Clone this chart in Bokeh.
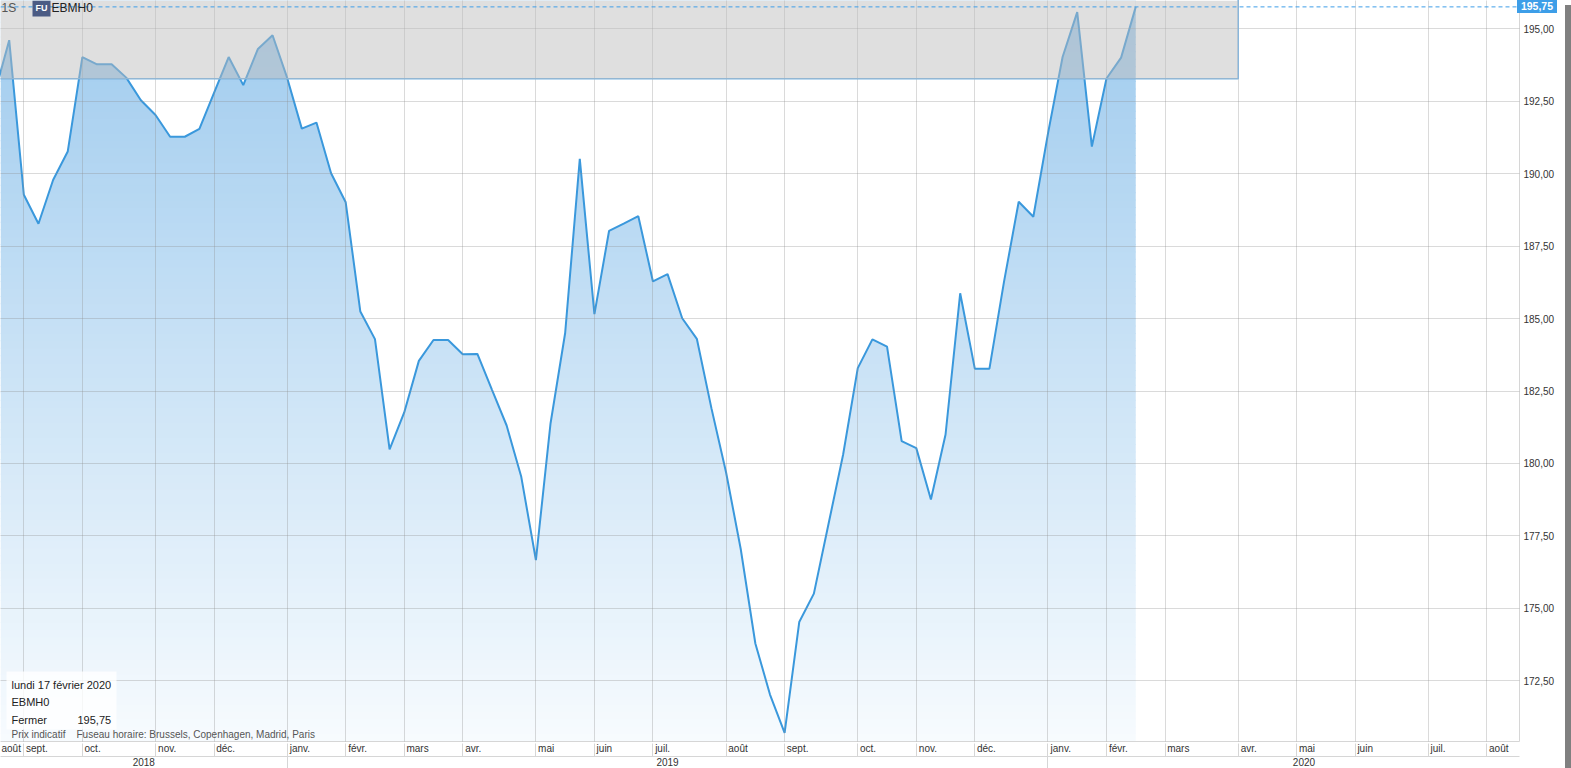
import numpy as np
from bokeh.plotting import figure
from bokeh.models import (Range1d, FixedTicker, LinearAxis, Span, Label,
                          BoxAnnotation, Div)
from bokeh.layouts import row
from bokeh.embed import file_html
from bokeh.resources import INLINE

# ---------------- data ----------------
# EBMH0 weekly closes, week index -1 (20 Aug 2018) .. 77 (Mon 17 Feb 2020)
closes = [192.75, 194.60, 189.27, 188.27, 189.78, 190.76, 194.02, 193.77, 193.77, 193.31,
          192.53, 192.02, 191.27, 191.27, 191.54, 192.78, 194.02, 193.05, 194.30, 194.77,
          193.30, 191.55, 191.76, 190.01, 189.01, 185.24, 184.29, 180.49, 181.76, 183.54,
          184.26, 184.26, 183.77, 183.78, 182.54, 181.31, 179.54, 176.67, 181.38, 184.50,
          190.51, 185.15, 188.02, 188.27, 188.53, 186.28, 186.53, 185.01, 184.30, 181.90,
          179.69, 177.05, 173.79, 172.03, 170.71, 174.53, 175.51, 177.91, 180.31, 183.29,
          184.28, 184.03, 180.77, 180.53, 178.76, 181.00, 185.87, 183.27, 183.27, 186.28,
          189.03, 188.51, 191.38, 194.02, 195.57, 190.93, 193.28, 194.00, 195.75]
first_week = -1
last_close = 195.75

# month tick = first weekly bar of each month (week index)
month_ticks = [1, 5, 10, 14, 19, 23, 27, 31, 36, 40, 44, 49,
               53, 58, 62, 66, 71, 75, 79, 84, 88, 92, 97, 101]
month_labels = ["sept.", "oct.", "nov.", "déc.", "janv.", "févr.", "mars", "avr.",
                "mai", "juin", "juil.", "août", "sept.", "oct.", "nov.", "déc.",
                "janv.", "févr.", "mars", "avr.", "mai", "juin", "juil.", "août"]
first_month_label = "août"
year_bounds = [19, 71]
year_centers = [9.2, 45.0, 88.5]
year_labels = ["2018", "2019", "2020"]
y_ticks = [172.5, 175.0, 177.5, 180.0, 182.5, 185.0, 187.5, 190.0, 192.5, 195.0]

# highlighted (zoom) box
zoom_box_right = 84
zoom_box_bottom = 193.27

# ---------------- figure ----------------
X0, X1 = -0.595, 103.23
Y0, Y1 = 170.41, 195.97
FW, FH = 1519, 741
FONT = "Liberation Sans"
PXW = FW / (X1 - X0)          # pixels per week
PXH = (Y1 - Y0) / FH          # data units per pixel (vertical)
GRID_C = "#d6d6d6"

weeks = np.arange(len(closes)) + first_week

p = figure(frame_width=FW, frame_height=FH, output_backend="svg",
           toolbar_location=None, x_range=Range1d(X0, X1), y_range=Range1d(Y0, Y1),
           x_axis_location="below", y_axis_location="right",
           min_border_left=0, min_border_top=0, min_border_bottom=0, min_border_right=0,
           background_fill_color="white", border_fill_color="white")
p.outline_line_color = None

# area with vertical gradient: opaque gradient bands under the data span,
# then the part above the price curve is masked back to white
top_rgb = np.array([159, 203, 238])
bot_rgb = np.array([247, 251, 254])
n_b = 100
edges = np.linspace(Y0, Y1, n_b + 1)
mids = (edges[:-1] + edges[1:]) / 2
tt = (Y1 - mids) / (Y1 - Y0)
band_cols = ["#%02x%02x%02x" % tuple(int(round(c)) for c in (top_rgb + (bot_rgb - top_rgb) * t))
             for t in tt]
p.quad(left=X0, right=weeks[-1], bottom=edges[:-1], top=edges[1:] + PXH,
       fill_color=band_cols, line_color=None)
p.varea(x=weeks, y1=closes, y2=Y1 + 1, fill_color="white")

# grids
p.xgrid.ticker = FixedTicker(ticks=month_ticks)
p.ygrid.ticker = FixedTicker(ticks=y_ticks)
for g in (p.xgrid[0], p.ygrid[0]):
    g.level = "guide"
    g.grid_line_color = "#8f8f8f"
    g.grid_line_alpha = 0.33

# price line
p.line(x=weeks, y=closes, line_color="#3a98dc", line_width=2, level="guide")

# grey zoom box over the top
p.add_layout(BoxAnnotation(right=zoom_box_right, bottom=zoom_box_bottom,
                           fill_color="#bcbcbc", fill_alpha=0.48, line_color=None,
                           level="annotation"))
p.line(x=[X0, zoom_box_right, zoom_box_right], y=[zoom_box_bottom, zoom_box_bottom, Y1 + 1],
       line_color="#7db3de", line_width=1.5, level="annotation")

# last price dashed line
p.add_layout(Span(location=last_close, dimension="width", line_color="#3d9ee8",
                  line_dash="4 3", line_width=1, level="overlay"))

# ---------------- axes ----------------
# approximate Arial/Liberation Sans advance widths (per 1000 em) to left-align month names
CW = {"a": 556, "o": 556, "û": 556, "t": 278, "s": 500, "e": 556, "p": 556, ".": 278,
      "c": 500, "n": 556, "v": 500, "d": 556, "é": 556, "j": 222, "i": 222, "f": 278,
      "r": 333, "m": 833, "u": 556, "l": 222}


def text_w(s, size=10):
    return sum(CW.get(ch, 556) for ch in s) * size / 1000.0


label_pos = [X0 + (1 + text_w(first_month_label) / 2) / PXW]
label_pos += [t + (2.2 + text_w(l) / 2) / PXW for t, l in zip(month_ticks, month_labels)]
label_txt = [first_month_label] + month_labels


def style_axis(a):
    a.major_label_text_font = FONT
    a.major_label_text_font_size = "10px"
    a.major_label_text_color = "#333333"
    a.axis_line_color = GRID_C


# row 1: month names
ax = p.xaxis[0]
ax.ticker = FixedTicker(ticks=label_pos)
ax.major_label_overrides = {float(t): l for t, l in zip(label_pos, label_txt)}
ax.major_label_standoff = 1
ax.major_tick_out = 0
ax.major_tick_in = 0
ax.major_tick_line_color = None
ax.minor_tick_line_color = None
style_axis(ax)

# row 2: years; its inward minor ticks draw the month separators in row 1
yr = LinearAxis(ticker=FixedTicker(ticks=year_centers, minor_ticks=month_ticks))
yr.major_label_overrides = {float(t): l for t, l in zip(year_centers, year_labels)}
yr.major_tick_line_color = None
yr.major_tick_out = 0
yr.major_tick_in = 0
yr.minor_tick_out = 0
yr.minor_tick_in = 13
yr.minor_tick_line_color = GRID_C
yr.major_label_standoff = 1
style_axis(yr)
p.add_layout(yr, "below")

# bottom: year separators drawn inward into row 2
ysep = LinearAxis(ticker=FixedTicker(ticks=year_bounds))
ysep.major_label_overrides = {float(t): "" for t in year_bounds}
ysep.major_label_text_font_size = "0px"
ysep.major_label_standoff = 0
ysep.major_tick_out = 0
ysep.major_tick_in = 12
ysep.major_tick_line_color = GRID_C
ysep.minor_tick_line_color = None
ysep.axis_line_color = None
p.add_layout(ysep, "below")

ya = p.yaxis[0]
ya.ticker = FixedTicker(ticks=y_ticks)
ya.major_label_overrides = {float(t): f"{t:.2f}".replace(".", ",") for t in y_ticks}
ya.major_tick_out = 0
ya.major_tick_in = 0
ya.minor_tick_line_color = None
ya.major_label_standoff = 4
style_axis(ya)


# ---------------- annotations ----------------
def xd(px):
    return (px - 8.7) / 14.63


def yd(py):
    return 195.0 - (py - 28.3) / 29.07


def lab(text, px, py, size="11px", color="#222222", style="normal", **kw):
    p.add_layout(Label(x=xd(px), y=yd(py), text=text, text_font=FONT,
                       text_font_size=size, text_color=color, text_font_style=style,
                       text_baseline="middle", text_align="left", level="overlay", **kw))


lab("1S", 1, 8, size="12px", color="#555555")
lab("FU", 32, 8, size="9px", color="white", style="bold",
    background_fill_color="#4b5b84", padding=3)
lab("EBMH0", 51, 8, size="12px", color="#222222")

p.add_layout(BoxAnnotation(left=xd(6), right=xd(116), bottom=yd(731), top=yd(673),
                           fill_color="white", fill_alpha=0.8, line_color=None,
                           level="overlay"))
lab("lundi 17 février 2020", 11, 686)
lab("EBMH0", 11, 704)
lab("Fermer", 11, 722)
lab(f"{last_close:.2f}".replace(".", ","), 77, 722)
lab("Prix indicatif", 11, 736, size="10px", color="#555555")
lab("Fuseau horaire: Brussels, Copenhagen, Madrid, Paris", 76, 736, size="10px",
    color="#555555")

# last-price tag on the price scale (HTML element laid over the axis)
tag = Div(text=f"{last_close:.2f}".replace(".", ","), width=40, height=13,
          styles={"margin-left": "-40px", "margin-right": "3px", "margin-top": "0px",
                  "background-color": "#3d9ee8", "color": "white",
                  "font-family": FONT, "font-size": "10.5px", "font-weight": "bold",
                  "line-height": "13px", "text-align": "center", "z-index": "10"})
strip = Div(text="", width=12, height=766, styles={"background-color": "#808080"})
page = row(p, tag, strip)

open("out.html", "w").write(file_html(page, INLINE))
